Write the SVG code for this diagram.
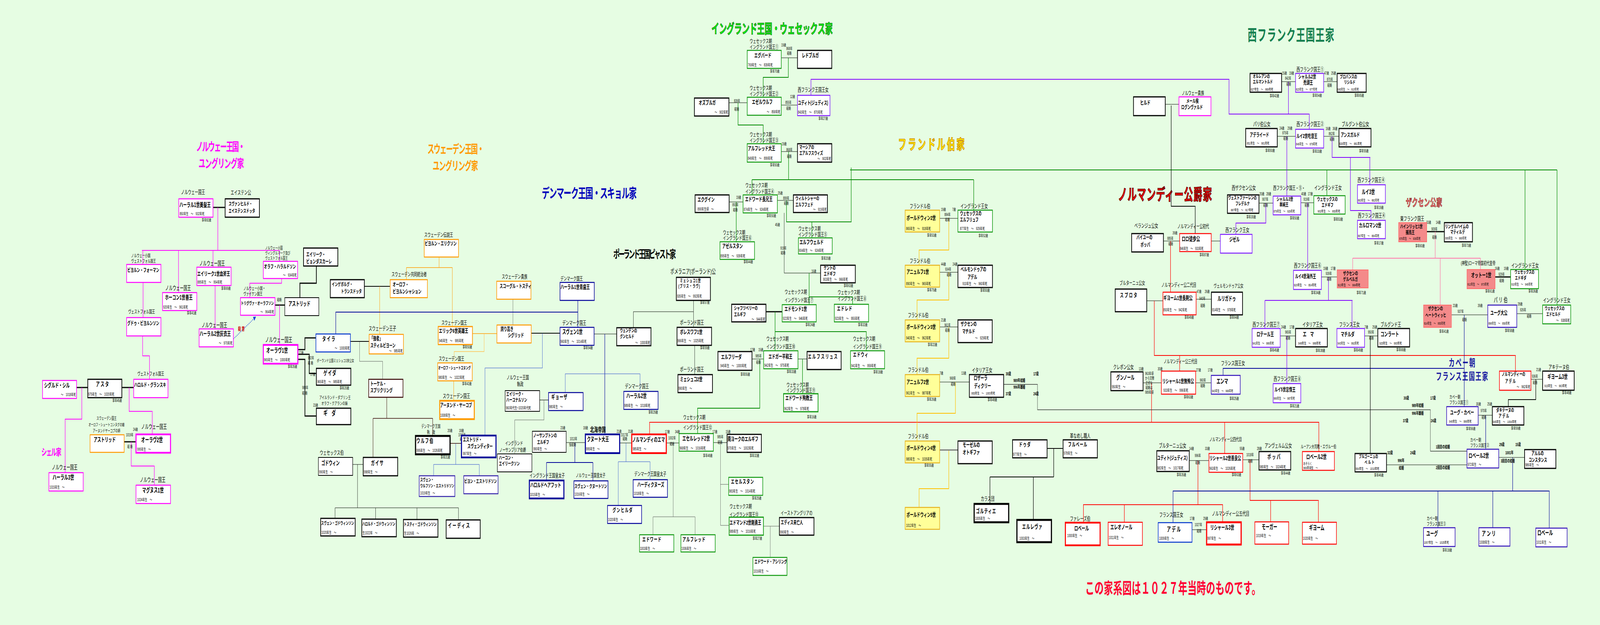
<svg xmlns="http://www.w3.org/2000/svg" width="7000" height="1600" viewBox="0 0 7000 1600" preserveAspectRatio="none" style="width:100%;height:100%">
<defs>
<style>
text{font-family:"Liberation Sans","Noto Sans CJK JP",sans-serif;fill:#000}
.t{font-size:14px}
.t2{font-size:12px}
.n{font-size:15px;font-weight:bold}
.n2{font-size:13px;font-weight:bold}
.d{font-size:10.5px}
.a{font-size:10px;text-anchor:end}
.s{font-size:10px}
.e{text-anchor:end}
.m{text-anchor:middle}
.h{font-weight:bold;text-anchor:middle}
.bk{fill:#fff;stroke:#000;stroke-width:2}
.bk3{fill:#fff;stroke:#000;stroke-width:3}
.bk5{fill:#fff;stroke:#000;stroke-width:5}
.mg{fill:#fff;stroke:#FF00FF;stroke-width:2.5}
.mg4{fill:#fff;stroke:#FF00FF;stroke-width:4.5}
.or{fill:#fff;stroke:#FF9900;stroke-width:2.5}
.or4{fill:#fff;stroke:#FF9900;stroke-width:4.5}
.nv{fill:#fff;stroke:#000099;stroke-width:2.5}
.nv4{fill:#fff;stroke:#000099;stroke-width:4.5}
.bl{fill:#fff;stroke:#0033CC;stroke-width:2.5}
.sb{fill:#fff;stroke:#3322AA;stroke-width:2.5}
.br{fill:#fff;stroke:#330000;stroke-width:2.5}
.gr{fill:#fff;stroke:#119911;stroke-width:2.5}
.pu{fill:#fff;stroke:#7F1FFF;stroke-width:2.5}
.cp{fill:#fff;stroke:#3311BB;stroke-width:2.5}
.rd{fill:#fff;stroke:#FF0000;stroke-width:2.5}
.rd4{fill:#fff;stroke:#FF0000;stroke-width:4.5}
.yl{fill:#FFFF99;stroke:#E6B422;stroke-width:2.5}
.sa{fill:#F48A8A;stroke:#FF6A6A;stroke-width:2}
.lm{stroke:#FF00FF;stroke-width:2;fill:none}
.lk{stroke:#000;stroke-width:1.2;fill:none}
.lk2{stroke:#000;stroke-width:2;fill:none}
.lk3{stroke:#000;stroke-width:3;fill:none}
.lo{stroke:#FF9900;stroke-width:1.5;fill:none}
.lo2{stroke:#FFC04D;stroke-width:1.5;fill:none}
.ln{stroke:#000099;stroke-width:1.8;fill:none}
.lb{stroke:#2244CC;stroke-width:1.2;fill:none}
.lg{stroke:#008800;stroke-width:2;fill:none}
.lp{stroke:#8000FF;stroke-width:2;fill:none}
.lr{stroke:#FF0000;stroke-width:2;fill:none}
.ly{stroke:#FFC000;stroke-width:2;fill:none}
.lpk{stroke:#FF77AA;stroke-width:2;fill:none}
.lgy{stroke:#555;stroke-width:1.2;fill:none}
.lgy3{stroke:#777;stroke-width:3;fill:none}
.lbr{stroke:#330000;stroke-width:1.5;fill:none}
</style>
<marker id="arr" viewBox="0 0 10 10" refX="9" refY="5" markerWidth="6" markerHeight="6" orient="auto"><path d="M0 0L10 5L0 10z" fill="#1144DD"/></marker>
</defs>
<rect x="0" y="0" width="7000" height="1600" fill="#E6FDE3"/>

<g id="house-titles">
<text class="h" x="965" y="386" style="font-size:30px;fill:#FF00FF" textLength="214">ノルウェー王国・</text>
<text class="h" x="968" y="429" style="font-size:30px;fill:#FF00FF" textLength="199">ユングリング家</text>
<text class="h" x="225" y="1166" style="font-size:24px;fill:#FF00FF" textLength="88">シェル家</text>
<text class="h" x="1994" y="392" style="font-size:30px;fill:#FF9900" textLength="248">スウェーデン王国・</text>
<text class="h" x="1992" y="435" style="font-size:30px;fill:#FF9900" textLength="199">ユングリング家</text>
<text class="h" x="2578" y="507" style="font-size:34px;fill:#0000BB" textLength="415">デンマーク王国・スキョル家</text>
<text class="h" x="2820" y="661" style="font-size:28px" textLength="274">ポーランド王国ピャスト家</text>
<text class="h" x="3378" y="86" style="font-size:34px;fill:#11EE11;stroke:#006600;stroke-width:1" textLength="531">イングランド王国・ウェセックス家</text>
<text class="h" x="4075" y="383" style="font-size:36px;fill:#FFEE00;stroke:#CC8800;stroke-width:1.5" textLength="291">フランドル伯家</text>
<text class="h" x="5648" y="104" style="font-size:40px;fill:#168050" textLength="379">西フランク王国王家</text>
<text class="h" x="5097" y="512" style="font-size:40px;fill:#EE0000;stroke:#550000;stroke-width:1.5" textLength="411">ノルマンディー公爵家</text>
<text class="h" x="6230" y="528" style="font-size:26px;fill:#F07070;stroke:#802020;stroke-width:1" textLength="159">ザクセン公家</text>
<text class="h" x="6396" y="938" style="font-size:26px;fill:#1A1AA0" textLength="116">カペー朝</text>
<text class="h" x="6396" y="973" style="font-size:26px;fill:#1A1AA0" textLength="228">フランス王国王家</text>
<text x="4748" y="1520" style="font-size:40px;font-weight:bold;fill:#FF0033" textLength="768">この家系図は１０２７年当時のものです。</text>
</g>

<g id="connectors">
<path class="lk3" d="M932 531H985"/>
<path class="lm" d="M953 531V641M621 641H1223M625 641V677M781 641V749M932 641V684M1223 641V669"/>
<path class="lm" d="M941 731V842M626 723V813M624 860V911H654V971M1232 713V725H1093V762"/>
<path class="lk3" d="M1384 681V725H1312V762M1203 781H1246"/>
<path class="lm" d="M1223 781V883"/>
<path class="lk3" d="M1303 895H1334V865H1382M1303 907H1353V956H1384M1303 920H1334V1065H1384"/>
<path d="M1021 868L1119 811" stroke="#1144DD" stroke-width="2" stroke-dasharray="3 3" fill="none" marker-end="url(#arr)"/>
<path class="lk3" d="M335 992H384M533 992H585M543 1131H595"/>
<path class="lm" d="M358 992V1073H285V1210M565 992V1053H666V1112M574 1131V1193H675V1242"/>
<path class="lk2" d="M1594 733H1707"/>
<path class="lo" d="M1661 733V856M1921 658V685M1778 685H1979M1778 685V716M1979 685V836M2067 854H2174M1985 975V1026"/>
<path class="lo2" d="M2118 854V900H1987V929"/>
<path class="lgy" d="M2244 766V832M1573 874V925H1674V971"/>
<path class="lk2" d="M2324 853H2450M1533 874H1615"/>
<path class="lb" d="M2373 853V942H2122V1115"/>
<path class="ln" d="M1469 855V799H2528M2528 769V838"/>
<path class="lk" d="M2599 855H2698"/>
<path class="ln" d="M2646 855V1112"/>
<path class="lb" d="M2473 1005V957H2800V1002"/>
<path class="lk" d="M2771 839V798H3034V769M3034 769V838M3039 884V959"/>
<path class="lbr" d="M1692 1017V1071M1632 1071H1893M1632 1071V1171M1893 1071V1116M1969 1135H2019"/>
<path class="lb" d="M1994 1135V1189M1897 1189H2097M1897 1189V1218M2097 1189V1218"/>
<path class="lk" d="M1543 1189H1589M1564 1189V1300M1466 1300H2006M1466 1300V1327M1643 1300V1329M1824 1300V1330M2006 1300V1331"/>
<path class="lk" d="M2361 1024H2400"/>
<path class="lgy" d="M2380 1024V1075H2252V1162"/>
<path class="lk" d="M2477 1133H2561M2711 1134H2764M2915 1134H2971M3121 1133H3181"/>
<path class="ln" d="M2515 1133V1184M2391 1184H2594M2391 1184V1230M2594 1184V1231"/>
<path class="lb" d="M2739 1134V1182M2705 1182H2844M2705 1182V1294M2844 1182V1228"/>
<path class="lr" d="M2842 1112V1081H5770V1156M5358 1081V1161M5038 980V1081"/>
<path class="lgy" d="M2945 1134V1323M2857 1323H3041M2857 1323V1369M3041 1323V1369M3152 1133V1345M3152 1240H3188M3152 1345H3190M3340 1347H3410M3370 1347V1427"/>
<path class="lk" d="M3418 148H3489M3189 263H3269M3418 269H3489M3418 388H3489M3401 513H3471M3190 517H3251M3431 545V699H3590M3290 919H3341M3491 919H3531"/>
<path class="lg" d="M3449 148V198H3339V249M3229 263V320H3339V368M3450 388V460M3290 460H4260M3290 460V499M4260 460V538"/>
<path class="lp" d="M3548 244V203H5377V292H5728V331M5637 209V292"/>
<path class="lg" d="M3441 513V568H3724V429M3552 568V609M3719 435H6812M5805 435V501M6672 435V690M6812 435V781"/>
<path class="lg" d="M3221 517V619M3540 699V780M3540 760H3730V779"/>
<path class="lk3" d="M3351 798H3422"/>
<path class="lg" d="M3391 798V898M3391 849H3790V898M3324 919V1045H3052V1110M3511 919V1008"/>
<path class="lk" d="M4111 559H4191M4111 697H4191M4111 837H4191M4111 978H4241"/>
<path class="ly" d="M4151 559V640H4021V679M4151 697V768H4012V819M4151 837V917H4012V959M4180 978V1058H4012V1129M4151 1152V1251H4021V1299"/>
<path stroke="#333" stroke-width="1.3" fill="none" d="M4391 984H4539V1049H6258V1155H6418"/>
<path class="lgy3" d="M4111 1152H4191"/>
<path class="lk2" d="M4581 1148H4651M4610 1148V1221M4331 1221H4610M4331 1221V1290M4521 1221V1331"/>
<path class="lr" d="M4740 1338V1292H5349V1337M4919 1292V1337M5241 1179V1292"/>
<path class="lk" d="M5098 267H5158M5090 617H5161M5299 617H5339M5017 770H5088M5233 766H5300M5001 980H5081M5231 980H5299M5203 1179H5289M5437 1177H5508M5215 1356H5279"/>
<path class="lk2" d="M5124 270V528H5229V598"/>
<path class="lr" d="M5121 617V748M5050 770V910H6630V950M5161 910V950M5469 1177V1281H5768V1337M5559 1281V1336"/>
<path class="lp" d="M5538 520V571H5407V600"/>
<path class="ln" d="M5351 961V943H6406M6406 806V1041M5132 1338V1257H6778V1352M6291 1257V1351M6531 1257V1351M6618 1171V1257M6500 1063V1150"/>
<path class="lk" d="M5607 209H5668M5791 209H5850M5588 349H5668M5791 349H5858M5508 520H5570M5691 519H5748M5781 709H5850M5601 860H5668M5970 860H6028M6066 1190H6418M6557 1171H6670M6350 806H6509M6636 803H6749M6467 1063H6529M6698 971H6749"/>
<path class="lp" d="M5630 349V502M5828 349V403H5995M5993 403V473M5908 403V539H5998V564M5721 519V692M5812 709V769M5534 769H5917M5534 769V841M5915 769V841M5630 860V982"/>
<path class="lk2" d="M5995 860V1161M6719 971V1023H6599V1041"/>
<path class="lk3" d="M6242 593H6319M6541 709H6609"/>
<path class="lpk" d="M6279 593V661M5918 661H6477M5918 661V691M6301 661V781M6477 661V690"/>
</g>

<g id="labels" class="s">
<text x="1307" y="907" class="s">17歳</text><text x="1347" y="920" class="s">982年</text><text x="1347" y="933" class="s">結 婚</text>
<text x="1358" y="962" class="s">17歳</text><text x="1322" y="996" class="s">988年</text><text x="1322" y="1010" class="s">結 婚</text><text x="1370" y="1041" class="s">23歳</text>
<text x="1041" y="846" style="font-size:13px;font-weight:bold;fill:#CC0000">殺 害</text>
<text x="582" y="1103" class="s">24歳</text><text x="551" y="1117" class="s">1019年</text><text x="557" y="1147" class="s">結 婚</text>
<text x="1212" y="771" class="s">結婚</text>
<text x="1958" y="1106" class="s">20歳</text><text x="2008" y="1106" class="s">18歳</text><text x="2005" y="1117" class="s">1015年</text><text x="2012" y="1128" class="s">結婚</text>
<text x="2551" y="1099" class="s">18歳</text><text x="2452" y="1099" class="s">23歳</text><text x="2493" y="1127" class="s">1013年</text><text x="2490" y="1142" class="s">仮結婚</text>
<text x="2698" y="1108" class="s">21歳</text><text x="2748" y="1108" class="s">31歳</text><text x="2716" y="1117" class="s">1017年</text><text x="2724" y="1127" class="s">結婚</text>
<text x="2909" y="1109" class="s">17歳</text><text x="2953" y="1109" class="s">34歳</text><text x="2924" y="1125" class="s">1002年</text><text x="2930" y="1140" class="s">結婚</text>
<text x="3117" y="1109" class="s">17歳</text><text x="3175" y="1109" class="s">15歳</text><text x="3138" y="1122" class="s">985年</text><text x="3140" y="1136" class="s">結婚</text>
<text x="3418" y="119" class="s">19歳</text><text x="3440" y="128" class="s">868年</text><text x="3443" y="140" class="s">結婚</text>
<text x="3211" y="262" class="s">839年</text><text x="3213" y="283" class="s">結婚</text>
<text x="3457" y="251" class="s">12歳</text><text x="3436" y="266" class="s">855年</text><text x="3440" y="281" class="s">結婚</text>
<text x="3420" y="372" class="s">19歳</text><text x="3440" y="387" class="s">868年</text><text x="3443" y="404" class="s">結婚</text>
<text x="3403" y="498" class="s">25歳</text><text x="3426" y="511" class="s">899年</text><text x="3430" y="524" class="s">結婚</text>
<text x="3221" y="509" class="s">19歳</text><text x="3204" y="528" class="s">893年</text><text x="3207" y="541" class="s">結婚</text>
<text x="3391" y="579" class="s">45歳</text><text x="3414" y="639" class="s">919年</text><text x="3416" y="651" class="s">結婚</text><text x="3550" y="698" class="s">16歳</text>
<text x="3282" y="899" class="s">17歳</text><text x="3318" y="899" class="s">15歳</text><text x="3305" y="915" class="s">985年</text><text x="3308" y="931" class="s">結婚</text>
<text x="4117" y="540" class="s">19歳</text><text x="4166" y="540" class="s">7歳</text><text x="4132" y="553" class="s">884年</text><text x="4135" y="566" class="s">結婚</text>
<text x="4117" y="680" class="s">44歳</text><text x="4168" y="680" class="s">24歳</text><text x="4135" y="693" class="s">934年</text><text x="4142" y="707" class="s">結婚</text>
<text x="4117" y="823" class="s">21歳</text><text x="4132" y="836" class="s">961年</text><text x="4135" y="849" class="s">結婚</text>
<text x="4111" y="959" class="s">7歳</text><text x="4206" y="959" class="s">13歳</text><text x="4155" y="972" class="s">968年</text><text x="4160" y="987" class="s">結婚</text>
<g style="font-size:11px;font-weight:bold">
<text x="4400" y="961">30歳</text><text x="4521" y="961">17歳</text><text x="4434" y="978">989年結婚</text><text x="4434" y="995">996年離婚</text><text x="4400" y="1012">37歳</text><text x="4521" y="1012">24歳</text>
<text x="6141" y="1023">30歳</text><text x="6258" y="1023">17歳</text><text x="6177" y="1042">989年結婚</text><text x="6177" y="1062">996年離婚</text><text x="6138" y="1081">37歳</text><text x="6260" y="1081">24歳</text>
<text x="6282" y="1148">1回目の結婚</text><text x="6282" y="1201">2回目の結婚</text>
<text x="6070" y="1163">32歳</text><text x="6170" y="1163">24歳</text><text x="6115" y="1183">996年</text><text x="6120" y="1202">結婚</text>
<text x="6559" y="1142">29歳</text><text x="6630" y="1142">15歳</text><text x="6586" y="1163">1001年</text><text x="6566" y="1184">3回目の結婚</text>
</g>
<text x="5130" y="600" class="s">39歳</text><text x="5107" y="614" class="s">885年</text><text x="5112" y="628" class="s">結婚</text>
<text x="5235" y="750" class="s">47歳</text><text x="5271" y="750" class="s">26歳</text><text x="5247" y="768" class="s">940年</text><text x="5252" y="786" class="s">結婚</text>
<text x="5609" y="191" class="s">15歳</text><text x="5640" y="191" class="s">19歳</text><text x="5622" y="204" class="s">842年</text><text x="5628" y="219" class="s">結婚</text>
<text x="5793" y="191" class="s">47歳</text><text x="5824" y="191" class="s">25歳</text><text x="5805" y="207" class="s">870年</text><text x="5807" y="222" class="s">結婚</text>
<text x="5598" y="332" class="s">24歳</text><text x="5633" y="332" class="s">29歳</text><text x="5610" y="344" class="s">875年</text><text x="5615" y="358" class="s">結婚</text>
<text x="5800" y="333" class="s">16歳</text><text x="5830" y="333" class="s">36歳</text><text x="5813" y="346" class="s">862年</text><text x="5818" y="360" class="s">結婚</text>
<text x="5510" y="500" class="s">20歳</text><text x="5540" y="500" class="s">28歳</text><text x="5522" y="514" class="s">907年</text><text x="5527" y="529" class="s">結婚</text>
<text x="5693" y="500" class="s">40歳</text><text x="5722" y="500" class="s">17歳</text><text x="5703" y="514" class="s">919年</text><text x="5708" y="529" class="s">結婚</text>
<text x="5789" y="691" class="s">19歳</text><text x="5822" y="691" class="s">17歳</text><text x="5800" y="704" class="s">939年</text><text x="5805" y="718" class="s">結婚</text>
<text x="5605" y="841" class="s">24歳</text><text x="5642" y="841" class="s">17歳</text><text x="5622" y="854" class="s">965年</text><text x="5625" y="869" class="s">結婚</text>
<text x="5970" y="841" class="s">7歳</text><text x="6004" y="841" class="s">25歳</text><text x="5985" y="854" class="s">950年</text><text x="5990" y="869" class="s">結婚</text>
<text x="6240" y="573" class="s">33歳</text><text x="6282" y="573" class="s">14歳</text><text x="6262" y="590" class="s">909年</text><text x="6266" y="611" class="s">結婚</text>
<text x="6540" y="691" class="s">16歳</text><text x="6579" y="691" class="s">19歳</text><text x="6556" y="706" class="s">929年</text><text x="6560" y="722" class="s">結婚</text>
<text x="6356" y="786" class="s">23歳</text><text x="6465" y="786" class="s">39歳</text><text x="6377" y="801" class="s">937年</text><text x="6397" y="822" class="s">結婚</text>
<text x="6640" y="782" class="s">28歳</text><text x="6650" y="797" class="s">926年</text><text x="6680" y="813" class="s">結婚</text>
<text x="6458" y="1038" class="s">30歳</text><text x="6507" y="1038" class="s">25歳</text><text x="6478" y="1055" class="s">970年</text><text x="6482" y="1072" class="s">結婚</text>
<text x="6721" y="950" class="s">21歳</text><text x="6702" y="967" class="s">936年</text><text x="6706" y="983" class="s">結婚</text>
<text x="4982" y="948" class="s">13歳</text><text x="5065" y="948" class="s">30歳</text>
<text x="5010" y="960" class="s">963年頃</text><text x="5010" y="972" class="s">から交際</text><text x="5012" y="984" class="s">正式な</text><text x="5012" y="996" class="s">結婚は</text><text x="5010" y="1008" class="s">989年頃</text>
<text x="5233" y="951" class="s">27歳</text><text x="5284" y="951" class="s">17歳</text><text x="5249" y="977" class="s">960年</text><text x="5252" y="991" class="s">結婚</text>
<text x="5202" y="1152" class="s">14歳</text><text x="5272" y="1152" class="s">33歳</text><text x="5227" y="1170" class="s">996年</text><text x="5230" y="1188" class="s">結婚</text>
<text x="5424" y="1152" class="s">55歳</text><text x="5499" y="1152" class="s">28歳</text><text x="5453" y="1168" class="s">1018年</text><text x="5460" y="1184" class="s">結婚</text>
<text x="5205" y="1331" class="s">17歳</text><text x="5264" y="1331" class="s">29歳</text><text x="5227" y="1347" class="s">1027年</text><text x="5236" y="1363" class="s">結婚</text>
</g>

<g id="harald1"><text class="t" x="792" y="497" style="font-size:15px">ノルウェー国王</text><rect class="mg" x="782" y="509" width="150" height="47"/><text class="n" x="785" y="530" style="font-size:16px">ハーラル1世美髪王</text><text class="d" x="786" y="551">850年生　～　932年死</text><text class="a" x="924" y="567">享年82歳</text></g>
<g id="svanhild"><text class="t" x="1009" y="498" style="font-size:15px">エイステン公</text><rect class="bk3" x="985" y="509" width="150" height="47"/><text class="n2" x="1000" y="526">スヴァンヒルド・</text><text class="n2" x="1000" y="544">エイステンスドッタ</text></g>
<g id="bjorn-farmann"><text class="t2" x="574" y="659">ノルウェー小国</text><text class="t2" x="574" y="673">ヴェストフォル国王</text><rect class="mg" x="554" y="677" width="150" height="46"/><text class="n" x="557" y="696" style="font-size:14px">ビヨルン・フォーマン</text></g>
<g id="hakon1"><text class="t" x="723" y="743" style="font-size:16px">ノルウェー国王</text><rect class="mg" x="711" y="749" width="150" height="46"/><text class="n" x="722" y="767" style="font-size:16px">ホーコン1世善王</text><text class="d" x="714" y="790">920年生　～　961年死</text><text class="a" x="859" y="805">享年41歳</text></g>
<g id="eirik1"><text class="t" x="872" y="680" style="font-size:16px">ノルウェー国王</text><rect class="mg" x="861" y="684" width="150" height="47"/><text class="n" x="863" y="706">エイリーク1世血斧王</text><text class="d" x="864" y="726">885年生　～　954年死</text><text class="a" x="1009" y="742">享年69歳</text></g>
<g id="harald2"><text class="t" x="882" y="838" style="font-size:16px">ノルウェー国王</text><rect class="mg" x="871" y="842" width="150" height="46"/><text class="n" x="873" y="860" style="font-size:16px">ハーラル2世灰衣王</text><text class="d e" x="1017" y="882">～　970年死</text></g>
<g id="olaf-haraldsson"><text class="t2" x="1160" y="639" style="font-size:11px">ノルウェー小国</text><text class="t2" x="1160" y="652" style="font-size:11px">ヴィングルマーク及び</text><text class="t2" x="1160" y="665" style="font-size:11px">ヴェストフォル国王</text><rect class="mg" x="1152" y="669" width="150" height="44"/><text class="n" x="1155" y="687" style="font-size:14px">オラフ・ハラルドソン</text><text class="d e" x="1298" y="708">～　934年死</text></g>
<g id="tryggve"><text class="t2" x="1065" y="743">ノルウェー小国・</text><text class="t2" x="1065" y="757">ヴァイケン国王</text><rect class="mg" x="1052" y="762" width="151" height="45"/><text class="n" x="1054" y="781" style="font-size:12px">トリグヴァ・オーラフソン</text><text class="d e" x="1199" y="802">～　964年死</text></g>
<g id="olaf1"><text class="t" x="1160" y="876" style="font-size:17px">ノルウェー国王</text><rect class="mg4" x="1152" y="883" width="151" height="48"/><text class="n" x="1165" y="903" style="font-size:17px">オーラヴ1世</text><text class="d" x="1155" y="925">965年生　～　1000年死</text><text class="a" x="1300" y="942">享年35歳</text></g>
<g id="eirik-bjodaskalle"><rect class="bk3" x="1328" y="635" width="150" height="46"/><text class="n" x="1340" y="656" style="font-size:14px">エイリーク・</text><text class="n" x="1340" y="674" style="font-size:14px">ビョンダスカーレ</text></g>
<g id="astrid-e"><rect class="bk" x="1246" y="762" width="149" height="46"/><text class="n" x="1262" y="783" style="font-size:16px">アストリッド</text></g>
<g id="tyra"><rect class="bl" x="1382" y="855" width="151" height="46"/><text class="n" x="1410" y="873" style="font-size:16px;letter-spacing:4px">タイラ</text><text class="d e" x="1530" y="895">～　1000年死</text></g>
<g id="geira"><text class="t" x="1386" y="927" style="font-size:10.5px">ポーランド公国ミェシュコ1世公女</text><rect class="bk3" x="1384" y="943" width="151" height="43"/><text class="n" x="1415" y="961" style="font-size:17px;letter-spacing:3px">ゲイダ</text><text class="d" x="1388" y="981">965年生　～　985年死</text><text class="a" x="1527" y="997">享年20歳</text></g>
<g id="gyda"><text class="t" x="1397" y="1022" style="font-size:11.5px">アイルランド・ダブリン王</text><text class="t" x="1406" y="1037" style="font-size:11.5px">オラフ・クアランの妹</text><rect class="bk3" x="1384" y="1045" width="151" height="42"/><text class="n" x="1415" y="1064" style="font-size:18px">ギ　ダ</text></g>
<g id="sigurd"><rect class="mg" x="186" y="974" width="149" height="46"/><text class="n" x="193" y="992" style="font-size:16px">シグルド・シル</text><text class="d e" x="332" y="1014">～　1018年死</text></g>
<g id="asta"><rect class="bk3" x="384" y="971" width="149" height="47"/><text class="n" x="420" y="989" style="font-size:16px;letter-spacing:4px">アスタ</text><text class="d" x="386" y="1013">975年生　～　1020年死</text><text class="a" x="533" y="1029">享年45歳</text></g>
<g id="harold-grenske"><text class="t" x="601" y="961" style="font-size:13px">ヴェストフォル国王</text><rect class="mg" x="585" y="971" width="150" height="47"/><text class="n" x="587" y="990" style="font-size:14px">ハロルド・グランスキ</text></g>
<g id="olaf2"><text class="t" x="618" y="1098" style="font-size:16px">ノルウェー国王</text><rect class="mg4" x="595" y="1112" width="151" height="47"/><text class="n" x="618" y="1132" style="font-size:17px">オーラヴ2世</text><text class="d" x="600" y="1154">995年生　～</text></g>
<g id="astrid-s"><text class="t2 m" x="466" y="1075" style="font-size:11px">スウェーデン国王</text><text class="t2 m" x="466" y="1091" style="font-size:10.5px">オーロフ・シュートコンヌグの娘</text><text class="t2 m" x="466" y="1107" style="font-size:11px">アーヌンドヤーコブの姉</text><rect class="or" x="394" y="1113" width="149" height="45"/><text class="n" x="410" y="1131" style="font-size:16px">アストリッド</text></g>
<g id="magnus"><text class="t" x="612" y="1234" style="font-size:16px">ノルウェー国王</text><rect class="mg" x="595" y="1242" width="151" height="47"/><text class="n" x="622" y="1261" style="font-size:17px">マグヌス1世</text><text class="d" x="600" y="1283">1024年生　～</text></g>
<g id="harald3"><text class="t" x="227" y="1202" style="font-size:16px">ノルウェー国王</text><rect class="mg" x="214" y="1210" width="150" height="47"/><text class="n" x="230" y="1228" style="font-size:17px">ハーラル3世</text><text class="d" x="217" y="1251">1015年生　～</text></g>
<g id="gudrod"><text class="t" x="561" y="802" style="font-size:13px">ヴェストフォル国王</text><rect class="mg" x="554" y="813" width="150" height="47"/><text class="n" x="557" y="832" style="font-size:14px">グドゥ・ビヨルンソン</text></g>

<g id="bjorn-eriksson"><text class="t" x="1856" y="606">スウェーデン伝説王</text><rect class="or" x="1856" y="613" width="150" height="45"/><text class="n" x="1858" y="628" style="font-size:14px">ビヨルン・エリクソン</text></g>
<g id="ingeborg"><rect class="bk3" x="1445" y="716" width="149" height="46"/><text class="n2" x="1452" y="732">インゲボルグ・</text><text class="n2" x="1492" y="750">トランスドッタ</text></g>
<g id="olof-bjornsson"><text class="t" x="1713" y="707">スウェーデン共同統治者</text><rect class="or" x="1707" y="716" width="163" height="46"/><text class="n" x="1718" y="733" style="font-size:14px">オーロフ・</text><text class="n" x="1718" y="751" style="font-size:14px">ビヨルンシャション</text></g>
<g id="styrbjorn"><text class="t" x="1613" y="846" style="font-size:15px">スウェーデン王子</text><rect class="or" x="1615" y="856" width="150" height="50"/><text class="n" x="1618" y="871" style="font-size:14px">「強者」</text><text class="n" x="1620" y="889" style="font-size:14px">スティルビヨーン</text><text class="d e" x="1762" y="902">～　985年死</text></g>
<g id="eric6"><text class="t" x="1931" y="831">スウェーデン国王</text><rect class="or" x="1917" y="836" width="150" height="46" style="stroke-width:3"/><text class="n" x="1920" y="852">エリック6世英雄王</text><text class="d" x="1920" y="876">945年生　～　995年死</text><text class="a" x="2065" y="892">享年50歳</text></g>
<g id="skoglar"><text class="t" x="2195" y="713">スウェーデン貴族</text><rect class="or" x="2173" y="720" width="150" height="46"/><text class="n" x="2186" y="737" style="font-size:14px">スコーグル・トスティ</text></g>
<g id="sigrid"><rect class="or" x="2174" y="832" width="150" height="46"/><text class="n" x="2190" y="847" style="font-size:14px">誇り高き</text><text class="n" x="2222" y="863" style="font-size:14px">シグリッド</text></g>
<g id="olof-skotkonung"><text class="t" x="1919" y="923">スウェーデン国王</text><rect class="or" x="1915" y="929" width="151" height="46"/><text class="n" x="1917" y="946" style="font-size:11px">オーロフ・シュートコヌング</text><text class="d" x="1918" y="970">980年生　～　1022年死</text><text class="a" x="2063" y="986">享年42歳</text></g>
<g id="anund"><text class="t" x="1937" y="1019" style="font-size:15px">スウェーデン国王</text><rect class="or4" x="1924" y="1026" width="151" height="47"/><text class="n" x="1926" y="1042" style="font-size:14px">アーヌンド・ヤーコブ</text><text class="d" x="1926" y="1067">1008年生　～</text></g>

<g id="thorkel"><rect class="br" x="1613" y="971" width="150" height="46"/><text class="n" x="1620" y="987" style="font-size:14px">トーケル・</text><text class="n" x="1620" y="1004" style="font-size:14px">スプリクリング</text></g>
<g id="ulf"><text class="t2" x="1843" y="1096">デンマーク王国</text><text class="t2" x="1868" y="1111">執　政</text><rect class="bk5" x="1818" y="1116" width="151" height="47"/><text class="n" x="1822" y="1134" style="font-size:16px;letter-spacing:3px">ウルフ伯</text><text class="d" x="1822" y="1157">995年生　～　1026年死</text><text class="a" x="1969" y="1174">享年31歳</text></g>
<g id="estrid"><rect class="nv4" x="2019" y="1115" width="151" height="56"/><text class="n" x="2025" y="1130" style="font-size:14px">エストリド・</text><text class="n" x="2045" y="1147" style="font-size:14px">スヴェンディター</text><text class="d" x="2025" y="1165">997年生　～</text></g>
<g id="sweyn-estridsen"><rect class="sb" x="1834" y="1218" width="156" height="53"/><text class="n" x="1838" y="1233" style="font-size:12px">スヴェン・</text><text class="n" x="1838" y="1248" style="font-size:11.5px">ウルフソン・エストリドソン</text><text class="d" x="1838" y="1266">1019年生　～</text></g>
<g id="bjorn-estridsen"><rect class="sb" x="2029" y="1218" width="150" height="46"/><text class="n" x="2031" y="1236" style="font-size:13px">ビヨン・エストリドソン</text></g>
<g id="godwin"><text class="t" x="1399" y="1164" style="font-size:15px">ウェセックス伯</text><rect class="bk" x="1393" y="1171" width="150" height="46"/><text class="n" x="1406" y="1191" style="font-size:16px">ゴドウィン</text><text class="d" x="1396" y="1212">990年生　～</text></g>
<g id="gytha"><rect class="bk3" x="1589" y="1171" width="151" height="47"/><text class="n" x="1623" y="1191" style="font-size:16px;letter-spacing:3px">ガイサ</text><text class="d" x="1592" y="1212">998年生　～</text></g>
<g id="sweyn-godwinson"><rect class="bk3" x="1403" y="1327" width="151" height="45"/><text class="n" x="1405" y="1344" style="font-size:12px">スヴェン・ゴドウィンソン</text><text class="d" x="1406" y="1367">1020年生　～</text></g>
<g id="harold-godwinson"><rect class="bk3" x="1583" y="1329" width="151" height="45"/><text class="n" x="1585" y="1346" style="font-size:12px">ハロルド・ゴドウィンソン</text><text class="d" x="1586" y="1368">生1022年　～</text></g>
<g id="tostig"><rect class="bk3" x="1765" y="1330" width="151" height="45"/><text class="n" x="1767" y="1347" style="font-size:12px">トスティ・ゴドウィンソン</text><text class="d" x="1768" y="1369">生1026年　～</text></g>
<g id="edith-g"><rect class="bk3" x="1952" y="1331" width="149" height="47"/><text class="n" x="1960" y="1351" style="font-size:16px;letter-spacing:4px">イーディス</text></g>
<g id="eirik-hakonarson"><text class="t" x="2216" y="971">ノルウェー王国</text><text class="t" x="2262" y="988">執政</text><rect class="bk" x="2210" y="1000" width="151" height="53"/><text class="n2" x="2215" y="1013">エイリーク・</text><text class="n2" x="2215" y="1028">ハーコナルソン</text><text class="d" x="2213" y="1048">960年代生~1020年代死</text></g>
<g id="gyoza"><rect class="nv" x="2400" y="1005" width="151" height="46"/><text class="n" x="2412" y="1022" style="font-size:16px;letter-spacing:2px">ギョーザ</text><text class="d" x="2402" y="1045">980年生　～</text></g>
<g id="hakon-eiriksson"><text class="t" x="2210" y="1139" style="font-size:13px">イングランド</text><text class="t" x="2185" y="1156" style="font-size:13px">ノーサンブリア伯爵</text><rect class="bk" x="2176" y="1162" width="151" height="46"/><text class="n2" x="2183" y="1176">ハーコン・</text><text class="n2" x="2183" y="1191">エイリークソン</text></g>
<g id="aelgifu-n"><rect class="bk" x="2329" y="1104" width="148" height="54"/><text class="n2" x="2333" y="1119">ノーサンプトンの</text><text class="n2" x="2350" y="1136">エルギフ</text><text class="d" x="2333" y="1153">990年生　～</text></g>
<g id="harold-harefoot"><text class="t" x="2317" y="1222">イングランド王国皇太子</text><rect class="nv4" x="2316" y="1230" width="151" height="46"/><text class="n" x="2320" y="1247">ハロルドヘアフット</text><text class="d" x="2319" y="1270">1015年生　～</text></g>
<g id="cnut"><text class="t" x="2582" y="1106" style="font-size:17px;font-weight:bold">北海帝国</text><rect class="nv4" x="2561" y="1112" width="150" height="48"/><text class="n" x="2568" y="1130" style="font-size:16px">クヌート大王</text><text class="d" x="2564" y="1153">995年生　～</text></g>
<g id="sweyn-cnutsson"><text class="t" x="2519" y="1221" style="font-size:13px">ノルウェー王国皇太子</text><rect class="nv" x="2511" y="1231" width="149" height="45"/><text class="n" x="2513" y="1249" style="font-size:13px">スヴェン・クヌートソン</text><text class="d" x="2514" y="1269">1016年生　～</text></g>
<g id="emma"><rect class="rd4" x="2764" y="1112" width="151" height="48"/><text class="n" x="2766" y="1131" style="font-size:16px">ノルマンディのエマ</text><text class="d" x="2768" y="1153">985年生　～</text></g>
<g id="harthacnut"><text class="t" x="2775" y="1218">デンマーク王国皇太子</text><rect class="nv" x="2770" y="1228" width="150" height="45"/><text class="n" x="2788" y="1246">ハーディクヌーズ</text><text class="d" x="2773" y="1267">1018年生　～</text></g>
<g id="gunhilda"><rect class="nv" x="2658" y="1294" width="149" height="46"/><text class="n" x="2680" y="1311" style="letter-spacing:3px">グンヒルダ</text><text class="d" x="2660" y="1334">1020年生　～</text></g>
<g id="ethelred"><text class="t" x="2989" y="1073">ウェセックス朝</text><text class="t" x="2989" y="1099">イングランド国王⑫</text><rect class="gr" x="2971" y="1110" width="150" height="45"/><text class="n" x="2985" y="1128" style="font-size:16px">エセルレッド2世</text><text class="d" x="2973" y="1151">968年生　～　1016年死</text><text class="a" x="3117" y="1170">享年48歳</text></g>
<g id="edward-e"><rect class="gr" x="2798" y="1369" width="150" height="44"/><text class="n" x="2810" y="1386" style="letter-spacing:2px">エドワード</text><text class="d" x="2800" y="1408">1003年生　～</text></g>
<g id="alfred-e"><rect class="gr" x="2979" y="1369" width="150" height="44"/><text class="n" x="2986" y="1386" style="letter-spacing:2px">アルフレッド</text><text class="d" x="2981" y="1408">1006年生　～</text></g>
<g id="aelgifu-y"><rect class="bk3" x="3181" y="1112" width="150" height="46"/><text class="n" x="3183" y="1129">南ヨークのエルギフ</text><text class="d" x="3183" y="1151">970年生　～　1002年死</text><text class="a" x="3321" y="1170">享年32歳</text></g>
<g id="athelstan-a"><rect class="gr" x="3188" y="1222" width="149" height="46"/><text class="n" x="3198" y="1238" style="letter-spacing:2px">エセルスタン</text><text class="d" x="3190" y="1261">983年生　～　1014年死</text><text class="a" x="3331" y="1279">享年25歳</text></g>
<g id="edmund2"><text class="t" x="3192" y="1301">ウェセックス朝</text><text class="t" x="3192" y="1322">イングランド国王⑬</text><rect class="gr" x="3190" y="1324" width="150" height="46" style="stroke-width:3"/><text class="n" x="3192" y="1343" style="font-size:14.5px">エドマンド2世剛勇王</text><text class="d" x="3192" y="1364">989年生　～　1016年死</text><text class="a" x="3334" y="1382">享年27歳</text></g>
<g id="edith-ea"><text class="t" x="3416" y="1318">イーストアングリアの</text><rect class="bk3" x="3410" y="1325" width="151" height="45"/><text class="n" x="3416" y="1342" style="font-size:14px">エディス未亡人</text><text class="d" x="3413" y="1366">990年生　～</text></g>
<g id="edward-exile"><rect class="gr" x="3294" y="1427" width="149" height="46"/><text class="n" x="3301" y="1442" style="font-size:13px">エドワード・アシリング</text><text class="d" x="3297" y="1466">1016年生　～</text></g>

<g id="harald-bluetooth"><text class="t" x="2452" y="718">デンマーク国王</text><rect class="nv" x="2450" y="723" width="150" height="46"/><text class="n" x="2452" y="740">ハーラル1世青歯王</text></g>
<g id="sweyn1"><text class="t" x="2460" y="832" style="font-size:15px">デンマーク国王</text><rect class="nv" x="2450" y="838" width="149" height="46"/><text class="n" x="2460" y="855" style="font-size:16px">スヴェン1世</text><text class="d" x="2452" y="878">960年生　～　1014年死</text><text class="a" x="2593" y="894">享年54歳</text></g>
<g id="gunhild-w"><rect class="bk3" x="2698" y="839" width="150" height="46"/><text class="n" x="2712" y="851" style="font-size:12.5px">ウェンデンの</text><text class="n" x="2712" y="866" style="font-size:12.5px">グンヒルド</text><text class="d e" x="2845" y="881">～　1000年死</text></g>
<g id="harald2-dk"><text class="t" x="2734" y="994" style="font-size:15px">デンマーク国王</text><rect class="nv" x="2729" y="1002" width="150" height="46"/><text class="n" x="2740" y="1019" style="font-size:16px">ハーラル2世</text><text class="d" x="2731" y="1042">989年生　～　1018年死</text><text class="a" x="2878" y="1059">享年29歳</text></g>
<g id="mieszko1"><text class="t" x="2933" y="701" style="font-size:17px">ポメラニア(ポーランド)公</text><rect class="bk3" x="2959" y="710" width="149" height="59"/><text class="n" x="2975" y="723" style="font-size:12px;letter-spacing:2px">ミェシュコ1世</text><text class="n" x="2968" y="737" style="font-size:12px;letter-spacing:2px">(ブリス・ラヴ)</text><text class="d" x="2962" y="762">935年生　～　992年死</text><text class="a" x="3104" y="778">享年57歳</text></g>
<g id="boleslaw"><text class="t" x="2975" y="831" style="font-size:15px">ポーランド国王</text><rect class="bk3" x="2962" y="838" width="151" height="46"/><text class="n" x="2975" y="855">ボレスワフ1世</text><text class="d" x="2964" y="876">966年生　～　1025年死</text><text class="a" x="3104" y="894">享年59歳</text></g>
<g id="mieszko2"><text class="t" x="2975" y="951" style="font-size:15px">ポーランド国王</text><rect class="bk3" x="2966" y="959" width="151" height="46"/><text class="n" x="2975" y="976">ミェシュコ2世</text><text class="d" x="2968" y="998">990年生　～</text></g>

<g id="egbert"><text class="t" x="3280" y="110">ウェセックス朝</text><text class="t" x="3280" y="125">イングランド国王①</text><rect class="gr" x="3269" y="129" width="149" height="46"/><text class="n" x="3300" y="147">エグバード</text><text class="d" x="3272" y="170">769年生　～　839年死</text><text class="a" x="3410" y="186">享年70歳</text></g>
<g id="redburga"><rect class="bk3" x="3489" y="129" width="150" height="46"/><text class="n" x="3508" y="147">レドブルガ</text></g>
<g id="aethelwulf"><text class="t" x="3280" y="230">ウェセックス朝</text><text class="t" x="3280" y="245">イングランド国王②</text><rect class="gr" x="3269" y="249" width="149" height="46"/><text class="n" x="3290" y="266">エゼルウルフ</text><text class="d e" x="3414" y="290">～　858年死</text></g>
<g id="osburga"><rect class="bk3" x="3038" y="251" width="151" height="46"/><text class="n" x="3057" y="268">オズブルガ</text><text class="d e" x="3186" y="291">～　902年死</text></g>
<g id="judith"><text class="t" x="3490" y="235" style="font-size:15px">西フランク王国王女</text><rect class="pu" x="3489" y="244" width="142" height="52"/><text class="n" x="3491" y="268" style="font-size:14px">ユディト(ジュディス)</text><text class="d" x="3491" y="291">843年生　～　870年死</text><text class="a" x="3622" y="307">享年27歳</text></g>
<g id="alfred"><text class="t" x="3280" y="349">ウェセックス朝</text><text class="t" x="3280" y="364">イングランド国王③</text><rect class="gr" x="3269" y="368" width="149" height="47"/><text class="n" x="3272" y="385">アルフレッド大王</text><text class="d" x="3272" y="409">849年生　～　899年死</text><text class="a" x="3410" y="426">享年50歳</text></g>
<g id="ealhswith"><rect class="bk3" x="3489" y="368" width="150" height="47"/><text class="n2" x="3497" y="381">マーシアの</text><text class="n2" x="3497" y="396">エアルフスウィズ</text><text class="d e" x="3636" y="410">～　902年死</text></g>
<g id="edward-elder"><text class="t" x="3261" y="479">ウェセックス朝</text><text class="t" x="3261" y="495">イングランド国王④</text><rect class="gr" x="3251" y="499" width="150" height="46"/><text class="n" x="3260" y="515">エドワード長兄王</text><text class="d" x="3254" y="540">874年生　～　924年死</text><text class="a" x="3395" y="556">享年50歳</text></g>
<g id="aelfflaed"><rect class="bk3" x="3471" y="499" width="149" height="45"/><text class="n2" x="3480" y="512">ウィルトシャーの</text><text class="n2" x="3480" y="528">エルフフェド</text><text class="d e" x="3617" y="540">～　919年死</text></g>
<g id="ecgwynn"><rect class="bk3" x="3041" y="499" width="149" height="45"/><text class="n" x="3052" y="516">エクグイン</text><text class="d" x="3052" y="539">890年生頃　～</text></g>
<g id="athelstan"><text class="t" x="3163" y="600">ウェセックス朝</text><text class="t" x="3163" y="614">イングランド国王⑥</text><rect class="gr" x="3150" y="619" width="151" height="45"/><text class="n" x="3160" y="635">アゼルスタン</text><text class="d" x="3152" y="659">895年生　～　939年死</text><text class="a" x="3294" y="674">享年44歳</text></g>
<g id="elfweard"><text class="t" x="3493" y="590">ウェセックス朝</text><text class="t" x="3493" y="605">イングランド国王⑤</text><rect class="gr" x="3493" y="609" width="148" height="41"/><text class="n" x="3498" y="625">エルフウェルド</text><text class="d" x="3495" y="645">904年生　～　924年死</text><text class="a" x="3634" y="665">享年20歳</text></g>
<g id="edgiva"><rect class="bk3" x="3590" y="679" width="152" height="45"/><text class="n2" x="3604" y="690">ケントの</text><text class="n2" x="3604" y="705">エドギフ</text><text class="d" x="3601" y="719">903年生　～　966年死</text><text class="a" x="3732" y="735">享年63歳</text></g>
<g id="edmund1"><text class="t" x="3433" y="752">ウェセックス朝</text><text class="t" x="3433" y="773">イングランド国王⑦</text><rect class="gr" x="3422" y="780" width="149" height="44"/><text class="n" x="3432" y="796">エドモンド1世</text><text class="d" x="3425" y="819">922年生　～　946年死</text><text class="a" x="3565" y="835">享年24歳</text></g>
<g id="aelgifu-s"><rect class="bk3" x="3201" y="779" width="150" height="45"/><text class="n2" x="3211" y="793">シャフツベリーの</text><text class="n2" x="3211" y="809">エルギフ</text><text class="d e" x="3348" y="821">～　944年死</text></g>
<g id="eadred"><text class="t" x="3665" y="753">ウェセックス朝</text><text class="t" x="3665" y="769">イングランド国王⑧</text><rect class="gr" x="3650" y="779" width="150" height="45"/><text class="n" x="3662" y="795" style="letter-spacing:2px">エドレド</text><text class="d" x="3653" y="819">923年生　～　955年死</text><text class="a" x="3795" y="835">享年32歳</text></g>
<g id="eadwig"><text class="t" x="3732" y="872">ウェセックス朝</text><text class="t" x="3732" y="892">イングランド国王⑨</text><rect class="gr" x="3721" y="898" width="149" height="46"/><text class="n" x="3732" y="913" style="letter-spacing:2px">エドウィ</text><text class="d" x="3724" y="940">941年生　～　959年死</text><text class="a" x="3862" y="956">享年18歳</text></g>
<g id="edgar"><text class="t" x="3353" y="872">ウェセックス朝</text><text class="t" x="3353" y="892">イングランド国王⑩</text><rect class="gr" x="3341" y="898" width="150" height="46"/><text class="n" x="3362" y="918">エドガー平和王</text><text class="d" x="3344" y="939">942年生　～　975年死</text><text class="a" x="3483" y="955">享年33歳</text></g>
<g id="elfrida"><rect class="bk3" x="3141" y="900" width="149" height="48"/><text class="n" x="3155" y="919">エルフリーダ</text><text class="d" x="3152" y="940">945年生　～　1000年死</text><text class="a" x="3281" y="962">享年55歳</text></g>
<g id="elfthryth"><rect class="bk3" x="3531" y="900" width="149" height="46"/><text class="n" x="3535" y="918" style="letter-spacing:4px">エルフスリュス</text></g>
<g id="edward-martyr"><text class="t" x="3441" y="990">ウェセックス朝</text><text class="t" x="3441" y="1004">イングランド国王⑪</text><rect class="gr" x="3428" y="1008" width="151" height="46" style="stroke-width:3"/><text class="n" x="3436" y="1024">エドワード殉教王</text><text class="d" x="3431" y="1050">962年生　～　978年死</text><text class="a" x="3572" y="1071">享年16歳</text></g>

<g id="baldwin2"><text class="t" x="3980" y="533" style="font-size:15px">フランドル伯</text><rect class="yl" x="3960" y="538" width="151" height="56"/><text class="n" x="3966" y="563">ボールドウィン2世</text><text class="d" x="3964" y="589">865年生　～　918年死</text><text class="a" x="4097" y="606">享年53歳</text></g>
<g id="aelfthryth-w"><text class="t" x="4202" y="533" style="font-size:15px">イングランド王女</text><rect class="gr" x="4191" y="538" width="151" height="56"/><text class="n" x="4200" y="551" style="font-size:13.5px">ウェセックスの</text><text class="n" x="4200" y="567" style="font-size:13.5px">エルフリュフ</text><text class="d" x="4200" y="589">877年生　～　929年死</text><text class="a" x="4322" y="607">享年52歳</text></g>
<g id="arnulf1"><text class="t" x="3980" y="673" style="font-size:15px">フランドル伯</text><rect class="yl" x="3960" y="679" width="151" height="56"/><text class="n" x="3966" y="701">アニュルフ1世</text><text class="d" x="3964" y="730">890年生　～　965年死</text><text class="a" x="4097" y="746">享年75歳</text></g>
<g id="adele-v"><rect class="bk3" x="4191" y="679" width="151" height="57"/><text class="n" x="4203" y="694" style="font-size:14px">ベルモンドゥアの</text><text class="n" x="4233" y="714" style="font-size:14px">アデル</text><text class="d" x="4211" y="730">910年生　～　960年死</text><text class="a" x="4330" y="747">享年50歳</text></g>
<g id="baldwin3"><text class="t" x="3972" y="812" style="font-size:15px">フランドル伯</text><rect class="yl" x="3960" y="819" width="151" height="56"/><text class="n" x="3966" y="842">ボールドウィン3世</text><text class="d" x="3964" y="869">940年生　～　962年死</text><text class="a" x="4100" y="886">享年22歳</text></g>
<g id="matilda-s"><rect class="bk3" x="4191" y="819" width="150" height="58"/><text class="n" x="4203" y="834" style="font-size:14px">ザクセンの</text><text class="n" x="4210" y="853" style="font-size:14px">マチルド</text><text class="d e" x="4326" y="869">～　929年死</text></g>
<g id="arnulf2"><text class="t" x="3972" y="952" style="font-size:15px">フランドル伯</text><rect class="yl" x="3960" y="959" width="151" height="56"/><text class="n" x="3966" y="983">アニュルフ2世</text><text class="d" x="3964" y="1010">961年生　～　987年死</text><text class="a" x="4096" y="1026">享年26歳</text></g>
<g id="rozala"><text class="t" x="4252" y="953" style="font-size:15px">イタリア王女</text><rect class="bk3" x="4241" y="959" width="150" height="58"/><text class="n" x="4260" y="973">ロザーラ</text><text class="n" x="4262" y="993">ディクリー</text><text class="d" x="4250" y="1010" style="font-size:9.5px">955年生　～　1003年死</text><text class="a" x="4362" y="1027">享年48歳</text></g>
<g id="baldwin4"><text class="t" x="3972" y="1122" style="font-size:15px">フランドル伯</text><rect class="yl" x="3960" y="1129" width="151" height="56"/><text class="n" x="3966" y="1152">ボールドウィン4世</text><text class="d" x="3964" y="1179">980年生　～　1035年死</text><text class="a" x="4085" y="1195">享年55歳</text></g>
<g id="otgiva"><rect class="bk3" x="4191" y="1129" width="150" height="58"/><text class="n" x="4212" y="1144">モーゼルの</text><text class="n" x="4212" y="1163">オトギファ</text></g>
<g id="baldwin5"><rect class="yl" x="3960" y="1299" width="151" height="56"/><text class="n" x="3966" y="1323">ボールドウィン5世</text><text class="d" x="3964" y="1349">1012年生　～</text></g>
<g id="doda"><rect class="bk3" x="4430" y="1126" width="151" height="46"/><text class="n" x="4458" y="1143" style="letter-spacing:3px">ドゥダ</text><text class="d" x="4432" y="1167">977年生　～</text></g>
<g id="fulbert"><text class="t" x="4681" y="1121" style="font-size:15px">革なめし職人</text><rect class="bk3" x="4651" y="1126" width="150" height="46"/><text class="n" x="4673" y="1143" style="letter-spacing:2px">フルベール</text><text class="d" x="4654" y="1164">978年生　～</text></g>
<g id="goltier"><text class="t" x="4291" y="1282" style="font-size:15px">カラス団</text><rect class="bk5" x="4262" y="1290" width="151" height="47"/><text class="n" x="4270" y="1314" style="font-size:16px;letter-spacing:2px">ゴルティエ</text><text class="d" x="4266" y="1331">1005年生　～</text></g>
<g id="herleva"><rect class="bk5" x="4449" y="1331" width="151" height="57"/><text class="n" x="4472" y="1354" style="font-size:16px;letter-spacing:2px">エルレヴァ</text><text class="d" x="4460" y="1382">1003年生　～</text></g>
<g id="robert-falaise"><text class="t" x="4681" y="1333" style="font-size:15px">ファレーズ伯</text><rect class="rd4" x="4661" y="1338" width="152" height="58"/><text class="n" x="4700" y="1358" style="font-size:16px">ロベール</text><text class="d" x="4669" y="1375">1000年生　～</text></g>

<g id="hild"><rect class="bk3" x="4959" y="248" width="139" height="48"/><text class="n" x="4988" y="268">ヒルド</text></g>
<g id="rognvald"><text class="t" x="5170" y="243">ノルウェー貴族</text><rect class="mg" x="5158" y="248" width="140" height="48"/><text class="n" x="5190" y="263" style="font-size:13.5px">メール侯</text><text class="n" x="5168" y="279" style="font-size:13.5px">ログンヴァルド</text></g>
<g id="rollo"><text class="t" x="5151" y="584">ノルマンディー公初代</text><rect class="rd" x="5161" y="598" width="138" height="46"/><text class="n" x="5170" y="617" style="font-size:16px">ロロ徒歩公</text><text class="d" x="5162" y="640" style="font-size:10px">846年生　～　933年死</text><text class="a" x="5289" y="656">享年87歳</text></g>
<g id="poppa"><text class="t" x="4963" y="583" style="font-size:15px">ベランジュ公女</text><rect class="bk3" x="4951" y="598" width="139" height="47"/><text class="n" x="4972" y="612" style="font-size:14px">バイユーの</text><text class="n" x="4990" y="631" style="font-size:14px">ポッパ</text></g>
<g id="gisela"><text class="t" x="5361" y="594" style="font-size:15px">西フランク王女</text><rect class="pu" x="5339" y="600" width="139" height="48"/><text class="n" x="5378" y="618">ジゼル</text></g>
<g id="sprota"><text class="t" x="4898" y="729">ブルターニュ公女</text><rect class="bk3" x="4879" y="740" width="138" height="58"/><text class="n" x="4900" y="761" style="letter-spacing:5px">スプロタ</text></g>
<g id="william1"><text class="t" x="5081" y="734">ノルマンディー公二代目</text><rect class="rd" x="5088" y="748" width="145" height="58"/><text class="n" x="5090" y="768">ギヨーム1世長剣公</text><text class="d" x="5090" y="797" style="font-size:10px">893年生　～　942年死</text><text class="a" x="5223" y="816">享年49歳</text></g>
<g id="luitgarde"><text class="t" x="5310" y="736" style="font-size:13px">ヴェルモンドゥア公女</text><rect class="bk3" x="5300" y="748" width="136" height="58"/><text class="n" x="5327" y="770" style="font-size:16px">ルリガドゥ</text><text class="d" x="5303" y="797" style="font-size:10px">914年生　～　978年死</text><text class="a" x="5420" y="816">享年64歳</text></g>

<g id="ermentrude"><rect class="bk3" x="5469" y="188" width="138" height="48"/><text class="n" x="5481" y="200" style="font-size:12.5px">オルレアンの</text><text class="n" x="5481" y="214" style="font-size:12.5px">エルマントルド</text><text class="d" x="5472" y="232" style="font-size:9.5px">827年生　～　869年死</text><text class="a" x="5596" y="249">享年42歳</text></g>
<g id="charles2"><text class="t" x="5672" y="183" style="font-size:15px">西フランク国王①</text><rect class="pu" x="5668" y="188" width="123" height="48"/><text class="n" x="5680" y="201" style="font-size:14px">シャルル2世</text><text class="n" x="5702" y="216" style="font-size:14px">禿頭王</text><text class="d" x="5670" y="232" style="font-size:9px">823年生　～　877年死</text><text class="a" x="5783" y="248">享年54歳</text></g>
<g id="richilde"><rect class="bk3" x="5850" y="188" width="127" height="48"/><text class="n" x="5862" y="201" style="font-size:12.5px">プロバンスの</text><text class="n" x="5880" y="215" style="font-size:12.5px">リシルド</text><text class="d" x="5852" y="232" style="font-size:9px">845年生　～　910年死</text><text class="a" x="5967" y="248">享年65歳</text></g>
<g id="louis2"><text class="t" x="5672" y="323" style="font-size:15px">西フランク国王②</text><rect class="pu" x="5668" y="331" width="123" height="48"/><text class="n" x="5672" y="353" style="font-size:14px">ルイ2世吃音王</text><text class="d" x="5670" y="372" style="font-size:9px">846年生　～　879年死</text><text class="a" x="5783" y="391">享年33歳</text></g>
<g id="adelaide"><text class="t" x="5483" y="323" style="font-size:15px">パリ伯公女</text><rect class="bk3" x="5450" y="329" width="138" height="47"/><text class="n" x="5468" y="350" style="font-size:14px">アデライード</text><text class="d" x="5455" y="370" style="font-size:9.5px">851年生　～　901年死</text><text class="a" x="5577" y="389">享年50歳</text></g>
<g id="ansgarde"><text class="t" x="5870" y="323" style="font-size:15px">ブルグント伯公女</text><rect class="bk3" x="5858" y="329" width="140" height="47"/><text class="n" x="5866" y="350" style="font-size:14px">アンスガルド</text><text class="d" x="5860" y="371" style="font-size:9.5px">826年生　～　881年死</text><text class="a" x="5987" y="390">享年55歳</text></g>
<g id="louis3"><text class="t" x="5939" y="466" style="font-size:15px">西フランク国王④</text><rect class="pu" x="5939" y="473" width="122" height="47"/><text class="n" x="5958" y="497" style="font-size:16px">ルイ3世</text><text class="d" x="5941" y="516" style="font-size:9px">863年生　～　882年死</text><text class="a" x="6053" y="535">享年19歳</text></g>
<g id="carloman"><text class="t" x="5941" y="557" style="font-size:15px">西フランク国王④</text><rect class="pu" x="5939" y="564" width="122" height="47"/><text class="n" x="5945" y="582" style="font-size:15px">カルロマン2世</text><text class="d" x="5941" y="607" style="font-size:9px">867年生　～　884年死</text><text class="a" x="6053" y="626">享年17歳</text></g>
<g id="charles3"><text class="t" x="5570" y="486">西フランク国王・⑤・</text><rect class="pu" x="5570" y="502" width="121" height="48"/><text class="n" x="5585" y="514" style="font-size:13px">シャルル3世</text><text class="n" x="5598" y="528" style="font-size:13px">単純王</text><text class="d" x="5572" y="544" style="font-size:9px">879年生　～　929年死</text><text class="a" x="5684" y="562">享年50歳</text></g>
<g id="frederuna"><text class="t" x="5389" y="486" style="font-size:15px">西ザクセン公女</text><rect class="bk3" x="5370" y="499" width="138" height="47"/><text class="n" x="5373" y="511" style="font-size:12.5px">ヴェストファーレンの</text><text class="n" x="5405" y="526" style="font-size:12.5px">フレデルナ</text><text class="d" x="5385" y="541" style="font-size:9.5px">887年生　～　917年死</text><text class="a" x="5494" y="559">享年30歳</text></g>
<g id="eadgifu"><text class="t" x="5750" y="486" style="font-size:15px">イングランド王女</text><rect class="gr" x="5748" y="501" width="137" height="47"/><text class="n" x="5762" y="514" style="font-size:13px">ウェセックスの</text><text class="n" x="5782" y="529" style="font-size:13px">エドギフ</text><text class="d" x="5765" y="544" style="font-size:9.5px">902年生　～　955年死</text><text class="a" x="5875" y="565">享年53歳</text></g>
<g id="louis4"><text class="t" x="5661" y="685" style="font-size:15px">西フランク国王⑥</text><rect class="pu" x="5659" y="692" width="122" height="49"/><text class="n" x="5666" y="712" style="font-size:14px">ルイ4世海外王</text><text class="d" x="5661" y="733" style="font-size:9.5px">920年生　～　954年死</text><text class="a" x="5777" y="753">享年34歳</text></g>
<g id="gerberga"><rect class="sa" x="5850" y="691" width="136" height="46"/><text class="n" x="5876" y="704" style="font-size:13px">ザクセンの</text><text class="n" x="5876" y="719" style="font-size:13px">ゲルベルガ</text><text class="d" x="5853" y="733" style="font-size:9.5px">913年生　～　984年死</text><text class="a" x="5976" y="753">享年71歳</text></g>
<g id="lothair"><text class="t" x="5480" y="836" style="font-size:15px">西フランク国王⑦</text><rect class="pu" x="5478" y="841" width="123" height="48"/><text class="n" x="5498" y="861" style="font-size:15px">ロテール王</text><text class="d" x="5480" y="882" style="font-size:9px">941年生　～　986年死</text><text class="a" x="5596" y="900">享年45歳</text></g>
<g id="emma-italy"><text class="t" x="5698" y="836" style="font-size:15px">イタリア王女</text><rect class="bk3" x="5668" y="841" width="139" height="47"/><text class="n" x="5700" y="861" style="font-size:16px">エ　マ</text><text class="d" x="5680" y="882" style="font-size:9.5px">948年生　～　986年死</text><text class="a" x="5797" y="901">享年38歳</text></g>
<g id="louis5"><text class="t" x="5572" y="975" style="font-size:15px">西フランク国王⑧</text><rect class="pu" x="5570" y="982" width="121" height="49"/><text class="n" x="5576" y="1002" style="font-size:14px">ルイ5世怠惰王</text><text class="d" x="5572" y="1023" style="font-size:9px">966年生　～　987年死</text><text class="a" x="5684" y="1043">享年21歳</text></g>
<g id="matilda-f"><text class="t" x="5859" y="836" style="font-size:15px">フランス王女</text><rect class="pu" x="5849" y="841" width="121" height="48"/><text class="n" x="5866" y="861">マチルダ</text><text class="d" x="5852" y="882" style="font-size:9px">943年生　～　992年死</text><text class="a" x="5963" y="900">享年49歳</text></g>
<g id="conrad"><text class="t" x="6040" y="836" style="font-size:15px">ブルグンド王</text><rect class="bk3" x="6028" y="841" width="139" height="47"/><text class="n" x="6040" y="861" style="font-size:16px">コンラート</text><text class="d" x="6035" y="882" style="font-size:9.5px">925年生　～　993年死</text><text class="a" x="6150" y="899">享年68歳</text></g>
<g id="bertha"><rect class="bk3" x="5928" y="1161" width="138" height="47"/><text class="n" x="5945" y="1173" style="font-size:12px">ブルゴーニュの</text><text class="n" x="5970" y="1188" style="font-size:12px">ベ ル ト</text><text class="d" x="5931" y="1203" style="font-size:9.5px">964年生　～　1010年死</text><text class="a" x="6053" y="1220">享年46歳</text></g>
<g id="robert2"><text class="t2" x="6432" y="1131">カペー朝</text><text class="t2" x="6432" y="1145">フランス国王②</text><rect class="cp" x="6418" y="1150" width="139" height="48"/><text class="n" x="6425" y="1172" style="font-size:16px">ロベール2世</text><text class="d" x="6421" y="1193">972年生　～</text></g>
<g id="constance"><rect class="bk3" x="6670" y="1151" width="137" height="48"/><text class="n" x="6700" y="1165" style="font-size:13.5px">アルルの</text><text class="n" x="6688" y="1182" style="font-size:13.5px">コンスタンス</text><text class="d" x="6673" y="1194">986年生　～</text></g>
<g id="hugh-son"><text class="t2" x="6242" y="1332">カペー朝</text><text class="t2" x="6242" y="1346">フランス国王③</text><rect class="cp" x="6228" y="1351" width="138" height="48"/><text class="n" x="6240" y="1372" style="font-size:17px">ユーグ</text><text class="d" x="6230" y="1392" style="font-size:9.5px">1007年生　～　1025年死</text><text class="a" x="6352" y="1412">享年18歳</text></g>
<g id="henri"><rect class="cp" x="6470" y="1351" width="136" height="47"/><text class="n" x="6483" y="1372" style="font-size:17px">ア ン リ</text><text class="d" x="6473" y="1392">1008年生　～</text></g>
<g id="robert-son"><rect class="cp" x="6719" y="1352" width="137" height="48"/><text class="n" x="6726" y="1370" style="font-size:17px">ロベール</text><text class="d" x="6722" y="1392">1011年生　～</text></g>
<g id="hugh-capet"><text class="t2" x="6341" y="1021">カペー朝</text><text class="t2" x="6341" y="1035">フランス国王①</text><rect class="cp" x="6329" y="1041" width="138" height="47"/><text class="n" x="6344" y="1061">ユーグ・カペー</text><text class="d" x="6340" y="1082" style="font-size:9.5px">940年生　～　996年死</text><text class="a" x="6455" y="1101">享年56歳</text></g>
<g id="adele-aq"><rect class="bk3" x="6529" y="1041" width="138" height="47"/><text class="n" x="6546" y="1054" style="font-size:13px">ダキテーヌの</text><text class="n" x="6556" y="1069" style="font-size:13px">ア デ ル</text><text class="d" x="6531" y="1083" style="font-size:9.5px">945年生　～　1004年死</text><text class="a" x="6652" y="1100">享年59歳</text></g>
<g id="adele-n"><rect class="rd" x="6560" y="950" width="138" height="49"/><text class="n" x="6570" y="962" style="font-size:13px">ノルマンディーの</text><text class="n" x="6585" y="980" style="font-size:13px">ア デ ル</text><text class="d e" x="6695" y="994">～　962年死</text></g>
<g id="william3"><text class="t" x="6775" y="945" style="font-size:15px">アキテーヌ伯</text><rect class="bk3" x="6749" y="950" width="138" height="49"/><text class="n" x="6770" y="970" style="font-size:16px">ギヨーム3世</text><text class="d" x="6757" y="991" style="font-size:9.5px">915年生　～　963年死</text><text class="a" x="6875" y="1009">享年48歳</text></g>
<g id="hugh-great"><text class="t" x="6535" y="774" style="font-size:17px">パ リ 伯</text><rect class="cp" x="6509" y="781" width="127" height="57"/><text class="n" x="6520" y="806" style="font-size:15px">ユーグ大公</text><text class="d" x="6512" y="831" style="font-size:9px">898年生　～　956年死</text><text class="a" x="6625" y="850">享年58歳</text></g>
<g id="hedwig"><rect class="sa" x="6228" y="781" width="122" height="57"/><text class="n" x="6248" y="794" style="font-size:13px">ザクセンの</text><text class="n" x="6236" y="811" style="font-size:13px">ヘートウィッヒ</text><text class="d" x="6230" y="831" style="font-size:9px">914年生　～　955年死</text><text class="a" x="6338" y="852">享年41歳</text></g>
<g id="eadhild"><text class="t" x="6751" y="774" style="font-size:15px">イングランド王女</text><rect class="gr" x="6749" y="781" width="123" height="48"/><text class="n" x="6758" y="794" style="font-size:12.5px">ウェセックスの</text><text class="n" x="6765" y="809" style="font-size:12.5px">エドヒルド</text><text class="d e" x="6868" y="824">～　938年死</text></g>
<g id="henry-fowler"><text class="t" x="6126" y="565" style="font-size:15px">東フランク国王</text><rect class="sa" x="6119" y="570" width="123" height="49"/><text class="n" x="6126" y="584" style="font-size:13px">ハインリッヒ1世</text><text class="n" x="6150" y="599" style="font-size:13px">捕鳥王</text><text class="d" x="6122" y="614" style="font-size:9px">876年生　～　936年死</text><text class="a" x="6233" y="633">享年60歳</text></g>
<g id="matilda-r"><rect class="bk3" x="6319" y="570" width="123" height="49"/><text class="n" x="6322" y="584" style="font-size:13px">リンゲルハイムの</text><text class="n" x="6345" y="598" style="font-size:13px">マティルデ</text><text class="d" x="6323" y="613" style="font-size:9px">895年生　～　968年死</text><text class="a" x="6436" y="632">享年73歳</text></g>
<g id="otto"><text class="t" x="6391" y="678" style="font-size:13px">(神聖)ローマ帝国初代皇帝</text><rect class="sa" x="6418" y="690" width="123" height="49"/><text class="n" x="6436" y="710" style="font-size:16px">オットー1世</text><text class="d" x="6420" y="731" style="font-size:9px">912年生　～　973年死</text><text class="a" x="6539" y="749">享年61歳</text></g>
<g id="edith-w"><text class="t" x="6612" y="685" style="font-size:15px">イングランド王女</text><rect class="gr" x="6609" y="690" width="122" height="49"/><text class="n" x="6626" y="701" style="font-size:12.5px">ウェセックスの</text><text class="n" x="6628" y="716" style="font-size:12.5px">エドギダ</text><text class="d" x="6612" y="731" style="font-size:9px">910年生　～　946年死</text><text class="a" x="6728" y="749">享年36歳</text></g>

<g id="richard1"><text class="t" x="5091" y="930" style="font-size:13.5px">ノルマンディー公三代目</text><rect class="rd" x="5081" y="950" width="150" height="59"/><text class="n" x="5085" y="981" style="font-size:14.5px">リシャール1世無怖公</text><text class="d" x="5090" y="1003">933年生　～　996年死</text><text class="a" x="5220" y="1020">享年63歳</text></g>
<g id="gunnor"><text class="t" x="4870" y="945" style="font-size:15px">クレポン公女</text><rect class="bk3" x="4860" y="952" width="141" height="48"/><text class="n" x="4884" y="972" style="font-size:16px">グンノール</text><text class="d" x="4864" y="994">950年生　～</text></g>
<g id="emma-f"><text class="t" x="5342" y="935" style="font-size:15px">フランス国王女</text><rect class="cp" x="5299" y="961" width="127" height="48"/><text class="n" x="5322" y="982" style="font-size:17px">エンマ</text><text class="d" x="5302" y="1004" style="font-size:9px">943年生　～　968年死</text><text class="a" x="5420" y="1024">享年25歳</text></g>
<g id="richard2"><text class="t" x="5291" y="1129" style="font-size:13px">ノルマンディー公四代目</text><rect class="rd" x="5289" y="1161" width="148" height="48"/><text class="n" x="5291" y="1178" style="font-size:14.5px">リシャール2世善良公</text><text class="d" x="5291" y="1203">963年生　～　1026年死</text><text class="a" x="5430" y="1219">享年63歳</text></g>
<g id="judith-b"><text class="t" x="5070" y="1146" style="font-size:15px">ブルターニュ公女</text><rect class="bk3" x="5061" y="1154" width="142" height="53"/><text class="n" x="5063" y="1177" style="font-size:14px">ユディト(ジュディス)</text><text class="d" x="5063" y="1202">982年生　～　1017年死</text><text class="a" x="5189" y="1219">享年35歳</text></g>
<g id="poppa2"><text class="t" x="5533" y="1146" style="font-size:15px">アンヴェルム公女</text><rect class="bk3" x="5508" y="1156" width="139" height="47"/><text class="n" x="5545" y="1175" style="font-size:16px">ポ ッ パ</text><text class="d" x="5511" y="1199">980年生　～　1024年死</text><text class="a" x="5645" y="1215">享年44歳</text></g>
<g id="robert-archbishop"><text class="t" x="5691" y="1148" style="font-size:12px">ルーアン大司教・エヴルー伯</text><rect class="rd" x="5698" y="1156" width="140" height="48"/><text class="n" x="5715" y="1175" style="font-size:16px">ロベール2世</text><text class="d" x="5702" y="1190" style="font-size:9.5px">おそらく</text><text class="d" x="5702" y="1201" style="font-size:9.5px">966年頃生　～</text></g>
<g id="eleanor"><rect class="rd" x="4848" y="1337" width="150" height="59"/><text class="n" x="4858" y="1355" style="font-size:16px">エレオノール</text><text class="d" x="4851" y="1380">1011年生　～</text></g>
<g id="richard3"><text class="t" x="5302" y="1320" style="font-size:15px">ノルマンディー公五代目</text><rect class="rd" x="5279" y="1337" width="151" height="57" style="stroke-width:5"/><text class="n" x="5295" y="1356" style="font-size:16px">リシャール3世</text><text class="d" x="5282" y="1382">997年生　～</text></g>
<g id="adele-f"><text class="t" x="5072" y="1323" style="font-size:15px">フランス国王女</text><rect class="bl" x="5067" y="1338" width="148" height="50"/><text class="n" x="5105" y="1361" style="font-size:17px">ア デ ル</text><text class="d" x="5071" y="1382">1009年生　～</text></g>
<g id="mauger"><rect class="rd" x="5490" y="1336" width="148" height="57"/><text class="n" x="5520" y="1355" style="font-size:17px">モーガー</text><text class="d" x="5495" y="1375">1019年生　～</text></g>
<g id="guillaume"><rect class="rd" x="5698" y="1337" width="149" height="56"/><text class="n" x="5727" y="1357" style="font-size:17px">ギヨーム</text><text class="d" x="5700" y="1382">1020年生　～</text></g>
</svg>
